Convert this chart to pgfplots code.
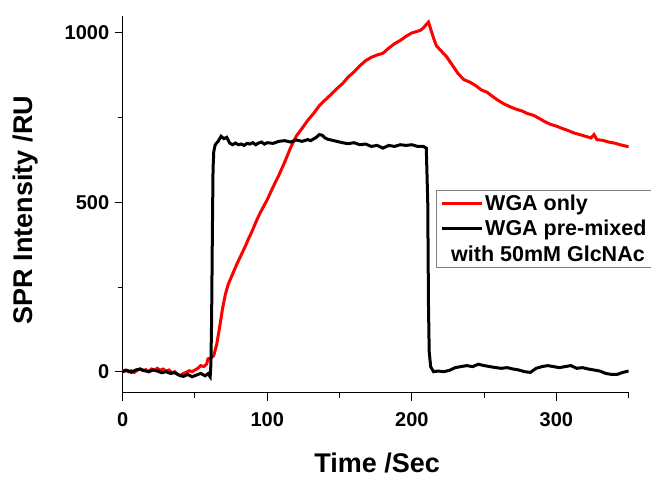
\documentclass[border=0pt]{standalone}
\usepackage{pgfplots}
\pgfplotsset{compat=1.18}
\usepackage{fontspec}
\setmainfont{Liberation Sans}
\begin{document}
\begin{tikzpicture}
\useasboundingbox (-122.7pt,-84.3pt) rectangle (528.3pt,392.7pt);
\begin{axis}[
  at={(0pt,0pt)}, anchor=south west,
  scale only axis, width=506pt, height=376.7pt,
  xmin=0, xmax=350, ymin=-62, ymax=1050,
  axis lines=left, axis line style={-, line width=1.2pt},
  x axis line style={-}, y axis line style={-},
  tick align=outside,
  xtick={0,100,200,300}, minor xtick={50,150,250,350},
  ytick={0,500,1000}, minor ytick={250,750},
  major tick length=8pt, minor tick length=5pt,
  every tick/.style={black, line width=1pt},
  /pgf/number format/assume math mode=true,
  /pgf/number format/1000 sep={},
  ticklabel style={font=\bfseries\fontsize{20}{20}\selectfont},
  xticklabel style={yshift=-8pt},
  yticklabel style={xshift=-2pt},
  xlabel={Time /Sec}, ylabel={SPR Intensity /RU},
  label style={font=\bfseries\fontsize{27}{27}\selectfont},
  xlabel style={at={(axis description cs:0.503,-0.187)}, anchor=center},
  ylabel style={at={(axis description cs:-0.193,0.485)}, anchor=center},
  legend style={at={(axis description cs:0.619,0.538)}, anchor=north west,
    draw=gray, line width=0.6pt, font=\bfseries\fontsize{21.5}{23}\selectfont,
    inner xsep=4pt, inner ysep=3pt, row sep=4pt},
  legend cell align=left,
  legend image code/.code={\draw[#1] (0pt,0pt) -- (40pt,0pt);},
]
\addplot[red, line width=3pt] coordinates {
(0,2) (2,5) (4,0) (6,3) (8,-2) (10,4) (12,8) (14,3) (16,6) (18,0) (20,8) (22,5) (24,10) (26,4) (28,8) (30,2) (32,5) (34,-3) (36,0) (38,-8) (40,-12) (42,-5) (44,-2) (46,3) (48,0) (50,5) (52,10) (54,18) (56,15) (58,22) (59,38) (61,40) (63,48) (65,80) (67,130) (69,185) (71,228) (73,258) (75,278) (77,298) (79,318) (81,336) (83,354) (85,372) (87,392) (89,410) (91,430) (93,450) (95,468) (97,484) (100,508) (104,545) (108,580) (112,618) (116,660) (120,695) (124,718) (128,742) (132,762) (136,785) (140,802) (144,818) (148,835) (152,850) (156,870) (160,885) (164,903) (168,918) (172,928) (176,935) (180,940) (184,955) (188,968) (192,978) (196,990) (200,1000) (204,1005) (206,1008) (208,1015) (210,1025) (211.5,1032) (213,1012) (215,985) (217,962) (220,948) (224,930) (228,905) (232,880) (236,862) (240,855) (244,845) (248,832) (252,825) (256,812) (260,800) (264,790) (268,782) (272,775) (276,770) (280,762) (284,757) (288,748) (292,738) (296,730) (300,725) (304,718) (308,712) (312,705) (316,700) (320,695) (324,690) (326,700) (328,685) (332,683) (336,678) (340,675) (344,670) (348,666) (350,664)
};
\addlegendentry{WGA only}
\addplot[black, line width=3pt] coordinates {
(0,0) (3,4) (6,-2) (9,5) (12,8) (15,3) (18,0) (21,5) (24,2) (27,-3) (30,0) (33,-5) (36,-3) (39,-10) (42,-14) (45,-8) (48,-15) (51,-10) (54,-5) (57,-12) (59,-6) (60.5,-15) (61,20) (61.5,150) (62,400) (62.5,600) (63,650) (64,670) (66,680) (68,695) (70,688) (72,692) (74,675) (76,670) (78,675) (80,670) (82,672) (84,668) (86,674) (88,672) (90,676) (92,670) (94,675) (96,678) (98,672) (100,676) (104,674) (108,680) (112,682) (116,678) (120,684) (124,680) (128,685) (130,682) (134,692) (136,700) (138,698) (140,690) (142,686) (144,684) (148,680) (152,676) (156,673) (160,676) (164,670) (168,672) (172,665) (176,668) (180,660) (184,668) (188,665) (192,670) (196,668) (200,670) (204,665) (208,665) (210,660) (211,500) (211.5,200) (212,60) (213,15) (215,0) (218,2) (222,0) (226,4) (230,12) (234,15) (238,18) (242,15) (246,22) (250,18) (254,15) (258,12) (262,10) (266,12) (270,8) (274,5) (278,0) (282,-2) (286,10) (290,15) (294,18) (298,15) (302,12) (306,15) (310,18) (314,10) (318,12) (322,8) (326,5) (330,2) (334,-5) (338,-8) (342,-8) (346,-2) (350,2)
};
\addlegendentry{WGA pre-mixed}
\addlegendimage{empty legend}
\addlegendentry{\hspace*{-34pt}with 50mM GlcNAc}
\end{axis}
\end{tikzpicture}
\end{document}
